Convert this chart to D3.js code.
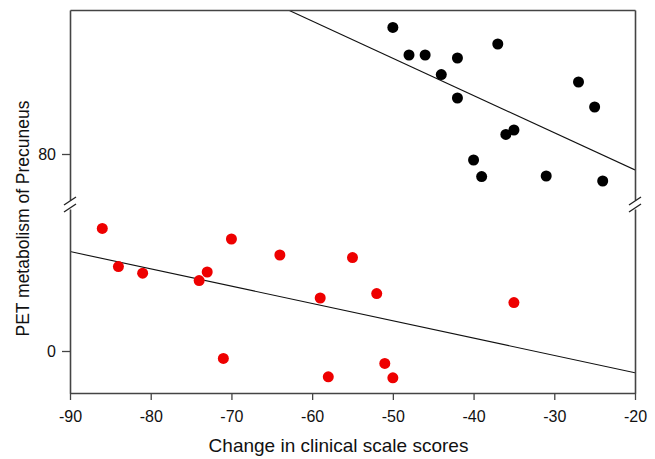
<!DOCTYPE html>
<html>
<head>
<meta charset="utf-8">
<script src="https://cdn.jsdelivr.net/npm/d3@7"></script>
<style>
  body { margin: 0; background: #fff; }
  svg { display: block; font-family: "Liberation Sans", Arial, sans-serif; }
</style>
</head>
<body>
<svg id="chart" width="655" height="459"></svg>
<script>
// ---- data ----
const xTicks = [-90, -80, -70, -60, -50, -40, -30, -20];
const yTicksTop = [80];
const yTicksBottom = [0];
const xLabel = "Change in clinical scale scores";
const yLabel = "PET metabolism of Precuneus";

// upper group (black)
const blackX = [-50, -48, -46, -42, -44, -37, -42, -36, -35, -40, -39, -31, -27, -25, -24];
const blackY = [86.33, 84.95, 84.95, 84.8, 83.97, 85.5, 82.8, 80.98, 81.2, 79.7, 78.87, 78.9, 83.6, 82.35, 78.65];

// lower group (red)
const redX = [-86, -84, -81, -74, -73, -70, -71, -64, -59, -58, -55, -52, -51, -50, -35];
const redY = [6.13, 4.22, 3.89, 3.52, 3.95, 5.6, -0.37, 4.8, 2.65, -1.29, 4.67, 2.87, -0.62, -1.34, 2.42];

// ---- layout ----
const L = 70, R = 635, T = 10, B = 393;
const topBottom = 200, botTop = 209;
const svg = d3.select("#chart");

const x = d3.scaleLinear().domain([-90, -20]).range([L, R]);
const yTop = d3.scaleLinear().domain([77.7, 87.2]).range([topBottom, T]);
const yBot = d3.scaleLinear().domain([-2.1, 7.1]).range([B, botTop]);
const fmt = d => String(d);

function fit(xs, ys) {
  const mx = d3.mean(xs), my = d3.mean(ys);
  let sxy = 0, sxx = 0;
  xs.forEach((v, i) => { sxy += (v - mx) * (ys[i] - my); sxx += (v - mx) * (v - mx); });
  const b = sxy / sxx;
  return { a: my - b * mx, b };
}

// clip paths
const defs = svg.append("defs");
defs.append("clipPath").attr("id", "clipTop").append("rect")
  .attr("x", L).attr("y", T).attr("width", R - L).attr("height", topBottom - T);
defs.append("clipPath").attr("id", "clipBot").append("rect")
  .attr("x", L).attr("y", botTop).attr("width", R - L).attr("height", B - botTop);

const axisColor = "#444";

// regression lines
const fTop = fit(blackX, blackY), fBot = fit(redX, redY);
const line = (yS, f) => d3.line()
  .x(d => x(d))
  .y(d => yS(f.a + f.b * d))([-90, -20]);
svg.append("path").attr("d", line(yTop, fTop)).attr("clip-path", "url(#clipTop)")
  .attr("fill", "none").attr("stroke", "#111").attr("stroke-width", 1.1);
svg.append("path").attr("d", line(yBot, fBot)).attr("clip-path", "url(#clipBot)")
  .attr("fill", "none").attr("stroke", "#111").attr("stroke-width", 1.1);

// points
svg.append("g").selectAll("circle").data(blackX.map((v, i) => [v, blackY[i]])).join("circle")
  .attr("cx", d => x(d[0])).attr("cy", d => yTop(d[1])).attr("r", 5.5).attr("fill", "#000");
svg.append("g").selectAll("circle").data(redX.map((v, i) => [v, redY[i]])).join("circle")
  .attr("cx", d => x(d[0])).attr("cy", d => yBot(d[1])).attr("r", 5.5).attr("fill", "#ee0000");

// axes
function styleAxis(g) {
  g.selectAll(".domain").attr("stroke", axisColor).attr("stroke-width", 1.6);
  g.selectAll(".tick line").attr("stroke", axisColor).attr("stroke-width", 1.3);
  g.selectAll(".tick text").attr("fill", "#111").style("font-size", "16px")
    .style("font-family", "'Liberation Sans', Arial, sans-serif");
}
svg.append("g").attr("transform", `translate(${L},0)`)
  .call(d3.axisLeft(yTop).tickValues(yTicksTop).tickFormat(fmt).tickSize(8).tickSizeOuter(0).tickPadding(6))
  .call(styleAxis);
svg.append("g").attr("transform", `translate(${L},0)`)
  .call(d3.axisLeft(yBot).tickValues(yTicksBottom).tickFormat(fmt).tickSize(8).tickSizeOuter(0).tickPadding(6))
  .call(styleAxis);
svg.append("g").attr("transform", `translate(${R},0)`)
  .call(d3.axisRight(yTop).tickValues([]).tickSizeOuter(0)).call(styleAxis);
svg.append("g").attr("transform", `translate(${R},0)`)
  .call(d3.axisRight(yBot).tickValues([]).tickSizeOuter(0)).call(styleAxis);
svg.append("g").attr("transform", `translate(0,${B})`)
  .call(d3.axisBottom(x).tickValues(xTicks).tickFormat(fmt).tickSize(7).tickSizeOuter(0).tickPadding(11))
  .call(styleAxis);
svg.append("g").attr("transform", `translate(0,${T})`)
  .call(d3.axisTop(x).tickValues([]).tickSizeOuter(0)).call(styleAxis);

// break marks
[L, R].forEach(px => {
  [topBottom + 1, botTop - 1].forEach(py => {
    svg.append("line")
      .attr("x1", px - 6).attr("y1", py + 4).attr("x2", px + 6).attr("y2", py - 4)
      .attr("stroke", "#222").attr("stroke-width", 1.3);
  });
});

// labels
svg.append("text").attr("x", (L + R) / 2 - 14).attr("y", 452).attr("text-anchor", "middle")
  .style("font-size", "19px").attr("fill", "#111").text(xLabel);
svg.append("text").attr("transform", `translate(29,${(T + B) / 2 + 17}) rotate(-90)`)
  .attr("text-anchor", "middle").style("font-size", "17.5px").attr("fill", "#111").text(yLabel);
</script>
</body>
</html>
